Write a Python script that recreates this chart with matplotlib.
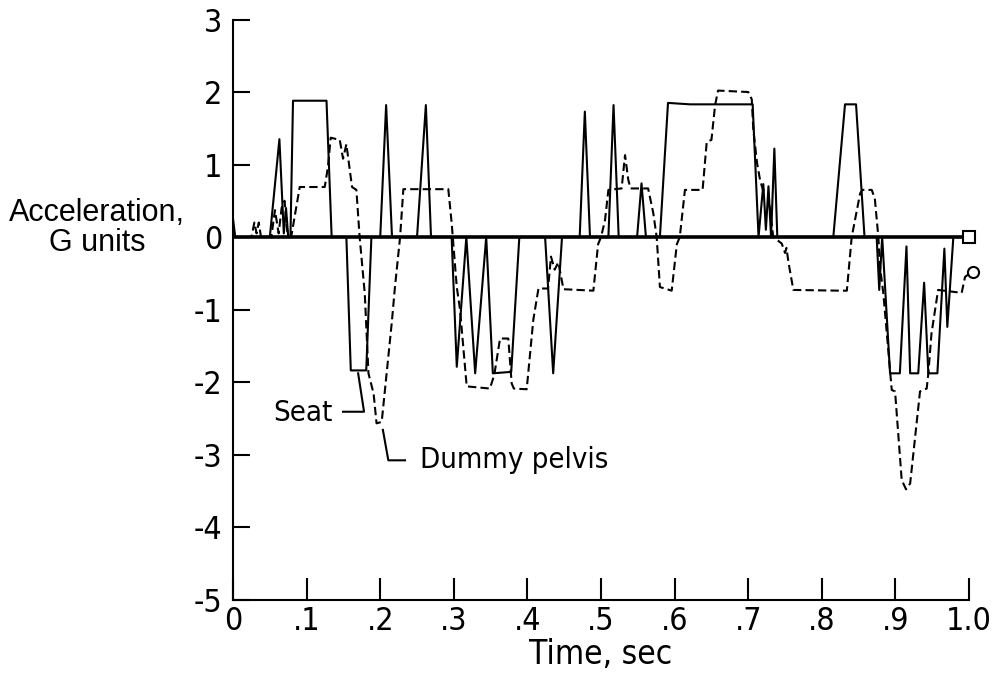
import numpy as np
import matplotlib.pyplot as plt

# ----------------------
# Data
# ----------------------
seat_t = [0, 0.003, 0.05, 0.063, 0.069, 0.072, 0.075, 0.078, 0.0815, 0.127,
          0.134, 0.154, 0.160, 0.181, 0.188, 0.200, 0.208, 0.216, 0.250, 0.262,
          0.269, 0.297, 0.304, 0.317, 0.329, 0.344, 0.353, 0.378, 0.389, 0.424,
          0.435, 0.447, 0.471, 0.478, 0.485, 0.510, 0.517, 0.524, 0.549, 0.555,
          0.561, 0.580, 0.591, 0.621, 0.706, 0.714, 0.7205, 0.724, 0.7275, 0.731,
          0.7355, 0.7395, 0.8156, 0.8315, 0.8465, 0.858, 0.8745, 0.878, 0.882, 0.8927,
          0.906, 0.915, 0.920, 0.931, 0.939, 0.9447, 0.957, 0.9665, 0.9705, 0.9787,
          1.0]
seat_g = [0.25, 0, 0, 1.35, 0.05, 0.4, 0, 0, 1.88, 1.88,
          0, 0, -1.84, -1.84, 0, 0, 1.82, 0, 0, 1.82,
          0, 0, -1.79, 0, -1.88, 0, -1.88, -1.86, 0, 0,
          -1.88, 0, 0, 1.73, 0, 0, 1.82, 0, 0, 0.74,
          0, 0, 1.85, 1.83, 1.83, 0, 0.73, 0.1, 0.7, 0,
          1.22, 0, 0, 1.83, 1.83, 0, 0, -0.73, 0, -1.88,
          -1.88, -0.13, -1.88, -1.88, -0.63, -1.88, -1.88, -0.16, -1.24, 0,
          0]

pelvis_t = [0, 0.025, 0.029, 0.032, 0.035, 0.038, 0.042, 0.052, 0.057, 0.062,
            0.066, 0.070, 0.074, 0.079, 0.0906, 0.1246, 0.129, 0.1327, 0.145, 0.1495,
            0.154, 0.1617, 0.1676, 0.172, 0.179, 0.184, 0.191, 0.195, 0.202, 0.2156,
            0.220, 0.227, 0.2314, 0.2925, 0.297, 0.304, 0.3084, 0.3175, 0.349, 0.355,
            0.3628, 0.374, 0.3786, 0.3815, 0.399, 0.408, 0.415, 0.428, 0.432, 0.437,
            0.442, 0.449, 0.4896, 0.496, 0.500, 0.5054, 0.51, 0.528, 0.5326, 0.537,
            0.540, 0.564, 0.571, 0.5756, 0.580, 0.596, 0.603, 0.607, 0.614, 0.638,
            0.6436, 0.650, 0.655, 0.659, 0.700, 0.7048, 0.7069, 0.712, 0.716, 0.720,
            0.727, 0.734, 0.7455, 0.75, 0.752, 0.7545, 0.7613, 0.8247, 0.834, 0.8406,
            0.852, 0.855, 0.8678, 0.872, 0.8768, 0.879, 0.8836, 0.893, 0.895, 0.8995,
            0.9085, 0.9144, 0.920, 0.9334, 0.9425, 0.9447, 0.949, 0.958, 0.990, 0.9946,
            1.0036]
pelvis_g = [0, 0, 0.2, 0.05, 0.2, 0, 0, 0, 0.37, 0.05,
            0.4, 0.5, 0.05, 0, 0.69, 0.69, 0.97, 1.37, 1.34, 1.08,
            1.28, 0.69, 0.65, 0, -0.78, -1.88, -2.16, -2.57, -2.55, -1.19,
            -0.69, 0, 0.66, 0.66, 0.2, -0.69, -1.0, -2.06, -2.09, -1.9,
            -1.40, -1.40, -2.02, -2.09, -2.1, -1.14, -0.71, -0.71, -0.27, -0.45,
            -0.35, -0.72, -0.74, -0.1, 0, 0.23, 0.65, 0.67, 1.13, 0.79,
            0.67, 0.67, 0.33, 0, -0.69, -0.74, -0.1, 0, 0.65, 0.65,
            1.31, 1.34, 1.82, 2.02, 2.0, 1.9, 1.48, 1.02, 0.79, 0.65,
            0.6, 0, -0.09, -0.22, -0.15, -0.34, -0.73, -0.74, -0.74, 0,
            0.6, 0.65, 0.65, 0.53, 0, -0.41, -0.78, -1.88, -2.11, -2.13,
            -3.35, -3.48, -3.40, -2.13, -2.09, -1.88, -1.33, -0.73, -0.77, -0.55,
            -0.48]

x_ticks = [0, 0.1, 0.2, 0.3, 0.4, 0.5, 0.6, 0.7, 0.8, 0.9, 1.0]
x_labels = ["0", ".1", ".2", ".3", ".4", ".5", ".6", ".7", ".8", ".9", "1.0"]
y_ticks = [-5, -4, -3, -2, -1, 0, 1, 2, 3]

# leader lines for the two labels
seat_lead_t = [0.1495, 0.178, 0.170]
seat_lead_g = [-2.41, -2.41, -1.88]
pelvis_lead_t = [0.2036, 0.211, 0.2337]
pelvis_lead_g = [-2.66, -3.08, -3.08]

# ----------------------
# Plot
# ----------------------
plt.rcParams['font.family'] = ['DejaVu Sans']
plt.rcParams['font.stretch'] = 'condensed'
plt.rcParams['axes.unicode_minus'] = False

fig = plt.figure(figsize=(9.95, 6.85), dpi=100)
ax = fig.add_axes([0.2342, 0.1248, 0.7397, 0.8467])

ax.plot([0, 1.0], [0, 0], color='black', lw=2.6)
ax.plot(seat_t, seat_g, color='black', lw=1.5)
ax.plot(pelvis_t, pelvis_g, color='black', lw=1.5, ls=(0, (4, 2)))

ax.plot([1.0], [0], marker='s', ms=8, mfc='white', mec='black', mew=1.5, clip_on=False)
ax.plot([1.005], [-0.48], marker='o', ms=8, mfc='white', mec='black', mew=1.5, clip_on=False)

ax.plot(seat_lead_t, seat_lead_g, color='black', lw=1.5)
ax.plot(pelvis_lead_t, pelvis_lead_g, color='black', lw=1.5)
ax.text(0.054, -2.43, "Seat", fontsize=21, ha='left', va='center')
ax.text(0.254, -3.08, "Dummy pelvis", fontsize=21, ha='left', va='center')

ax.set_xlim(0, 1.0)
ax.set_ylim(-5, 3)
ax.set_xticks(x_ticks)
ax.set_xticklabels(x_labels)
ax.set_yticks(y_ticks)
for s in ['top', 'right']:
    ax.spines[s].set_visible(False)
for s in ['left', 'bottom']:
    ax.spines[s].set_linewidth(1.5)

ax.tick_params(axis='x', direction='in', length=16, width=1.5, pad=5, labelsize=23)
ax.tick_params(axis='y', direction='in', length=12, width=1.5, pad=8, labelsize=23)

fig.text(601 / 995, 1 - 655 / 685, "Time, sec", fontsize=24, ha='center', va='center')
fig.text(97 / 995, 1 - 228 / 685, "Acceleration,\nG units", fontsize=22,
         ha='center', va='center', family=['Liberation Sans', 'DejaVu Sans'],
         fontstretch='normal', linespacing=1.0)

plt.savefig("out.png", dpi=100)
